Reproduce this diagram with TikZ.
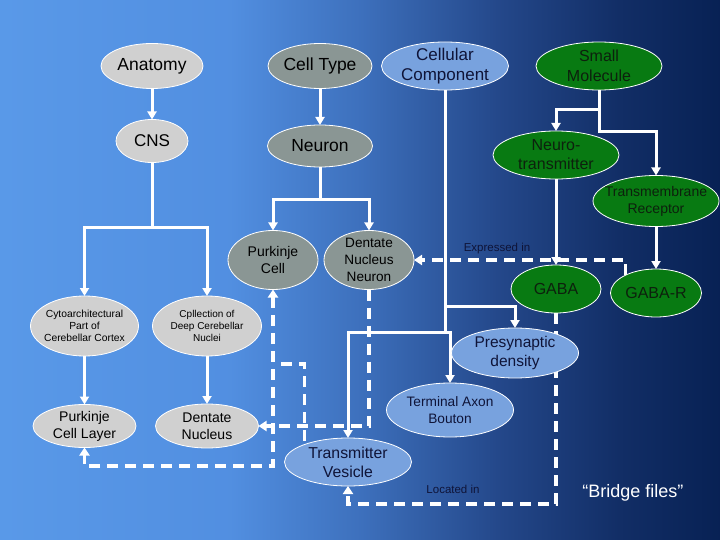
\documentclass[tikz,border=0pt]{standalone}
\usepackage{fontspec}
\setmainfont{Liberation Sans}
\usetikzlibrary{shapes.geometric,arrows.meta}
\definecolor{fillgrayA}{RGB}{208,208,208}
\definecolor{fillgrayB}{RGB}{138,150,148}
\definecolor{fillblue}{RGB}{120,162,222}
\definecolor{fillgreen}{RGB}{8,122,18}
\definecolor{txtnavy}{rgb}{0.06,0.08,0.22}
\definecolor{txtgreen}{rgb}{0.05,0.13,0.05}
\pgfdeclarehorizontalshading{bgshade}{100bp}{rgb(0bp)=(0.35,0.60,0.91); rgb(25bp)=(0.35,0.60,0.91); rgb(41bp)=(0.32,0.56,0.88); rgb(50bp)=(0.24,0.44,0.74); rgb(59.7bp)=(0.14,0.28,0.54); rgb(68bp)=(0.07,0.18,0.40); rgb(75bp)=(0.03,0.13,0.33); rgb(100bp)=(0.03,0.13,0.33)}
\pgfdeclarelayer{bg}
\pgfdeclarelayer{edges}
\pgfsetlayers{bg,edges,main}
\newcommand{\fsz}[2]{\fontsize{#1pt}{#2pt}\selectfont}
\begin{document}
\begin{tikzpicture}[x=1pt,y=-1pt,
  el/.style 2 args={ellipse, draw=white, line width=0.8pt, minimum width=#1pt, minimum height=#2pt, inner sep=0pt, outer sep=0pt},
  grayA/.style 2 args={el={#1}{#2}, fill=fillgrayA},
  grayB/.style 2 args={el={#1}{#2}, fill=fillgrayB},
  blueN/.style 2 args={el={#1}{#2}, fill=fillblue},
  greenN/.style 2 args={el={#1}{#2}, fill=fillgreen},
  txtK/.style={align=center, text=black},
  txtB/.style={align=center, text=txtnavy},
  txtG/.style={align=center, text=txtgreen},
  ln/.style={draw=white, line width=3pt, line cap=rect},
  ar/.style={draw=white, line width=3pt, -{Triangle[width=9pt,length=8pt]}},
  ds/.style={draw=white, line width=3.5pt, dash pattern=on 11pt off 7pt},
  dar/.style={ds, -{Triangle[width=10pt,length=8pt]}},
  darb/.style={ds, {Triangle[width=10pt,length=8pt]}-{Triangle[width=10pt,length=8pt]}}
]
\useasboundingbox (0,0) rectangle (720,540);
\begin{pgfonlayer}{bg}
\fill[shading=bgshade] (0,0) rectangle (720,540);
\end{pgfonlayer}

% nodes
\node[grayA={102}{45}, label={[txtK,font=\fsz{17.5}{20}]center:Anatomy}] (anat) at (152,66) {};
\node[grayA={72}{43}, label={[txtK,font=\fsz{17}{20}]center:CNS}] (cns) at (152,141) {};
\node[grayB={104}{45}, label={[txtK,font=\fsz{17.5}{20}]center:Cell Type}] (ctype) at (320,66) {};
\node[grayB={105}{42}, label={[txtK,font=\fsz{17.5}{20}]center:Neuron}] (neuron) at (320,146) {};
\node[blueN={127}{48}, label={[txtB,font=\fsz{17}{20}]center:Cellular\\Component}] (ccomp) at (445,66) {};
\node[greenN={126}{48}, label={[txtG,font=\fsz{16}{20}]center:Small\\Molecule}] (smol) at (599,66) {};
\node[greenN={126}{48}, label={[txtG,font=\fsz{16}{19}]center:Neuro-\\transmitter}] (ntrans) at (556,155) {};
\node[greenN={126}{51}, label={[txtG,font=\fsz{14}{17}]center:Transmembrane\\Receptor}] (tmr) at (656,201) {};
\node[grayB={90}{59}, label={[txtK,font=\fsz{14}{16.5}]center:Purkinje\\Cell}] (pcell) at (273,260) {};
\node[grayB={90}{59}, label={[txtK,font=\fsz{13.6}{17}]center:Dentate\\Nucleus\\Neuron}] (dnn) at (369,260) {};
\node[grayA={108}{60}, label={[txtK,font=\fsz{10.3}{12}]center:Cytoarchitectural\\Part of\\Cerebellar Cortex}] (cyto) at (84.5,326) {};
\node[grayA={109}{60}, label={[txtK,font=\fsz{10}{12}]center:Cpllection of\\Deep Cerebellar\\Nuclei}] (coll) at (207,326) {};
\node[grayA={103}{43}, label={[txtK,font=\fsz{14}{17}]center:Purkinje\\Cell Layer}] (pcl) at (84.5,426) {};
\node[grayA={103}{44}, label={[txtK,font=\fsz{14}{17}]center:Dentate\\Nucleus}] (dnuc) at (207,426) {};
\node[greenN={90}{48}, label={[txtG,font=\fsz{16}{19}]center:GABA}] (gaba) at (556,289) {};
\node[greenN={91}{48}, label={[txtG,font=\fsz{16}{19}]center:GABA-R}] (gabar) at (656,293) {};
\node[blueN={127}{50}, label={[txtB,font=\fsz{15.5}{19}]center:Presynaptic\\density}] (pre) at (515,353) {};
\node[blueN={127}{54}, label={[txtB,font=\fsz{13.7}{17}]center:Terminal Axon\\Bouton}] (tab) at (450,410) {};
\node[blueN={127}{48}, label={[txtB,font=\fsz{15.8}{19}]center:Transmitter\\Vesicle}] (tv) at (348,462) {};

\node[text=txtnavy, font=\fsz{11.5}{13}] (lexp) at (497,249) {Expressed in};
\node[text=txtnavy, font=\fsz{11.5}{13}] (lloc) at (453,489) {Located in};
\node[text=white, font=\fsz{18}{21}] (bridge) at (633,493) {“Bridge files”};

% junction coordinates
\coordinate (b1) at (152,228);
\coordinate (b2) at (320,200);
\coordinate (b3) at (599,110);
\coordinate (b4) at (599,132);
\coordinate (c1) at (445,306);
\coordinate (b5) at (445,332);
\coordinate (b6) at (348,332);
\coordinate (b7) at (450,332);
\coordinate (pc1) at (273,466);
\coordinate (j1) at (281,364);
\coordinate (li) at (348,504);

\begin{pgfonlayer}{edges}
\draw[ar] (anat.south) -- (cns.north);
\draw[ar] (ctype.south) -- (neuron.north);
\draw[ln] (cns.south) -- (b1);
\draw[ar] (b1) -| (cyto.north);
\draw[ar] (b1) -| (coll.north);
\draw[ln] (neuron.south) -- (b2);
\draw[ar] (b2) -| (pcell.north);
\draw[ar] (b2) -| (dnn.north);
\draw[ln] (smol.south) -- (b4);
\draw[ar] (b3) -| (ntrans.north);
\draw[ar] (b4) -| (tmr.north);
\draw[ar] (ntrans.south) -- (gaba.north);
\draw[ar] (tmr.south) -- (gabar.north);
\draw[ar] (cyto.south) -- (pcl.north);
\draw[ar] (coll.south) -- (dnuc.north);
\draw[ln] (ccomp.south) -- (b5);
\draw[ar] (c1) -| (pre.north);
\draw[ln] (b6) -- (b7);
\draw[ar] (b6) -- (tv.north);
\draw[ar] (b7) -- (tab.north);
% dashed relations
\draw[dar] (gabar.150) |- (dnn.east);
\draw[darb] (pcell.south) -- (pc1) -| (pcl.south);
\draw[dar] (dnn.south) |- (dnuc.east);
\draw[ds] (j1) -| (tv.158);
\draw[dar] (gaba.south) |- (li) -- (tv.south);
\end{pgfonlayer}
\end{tikzpicture}
\end{document}
